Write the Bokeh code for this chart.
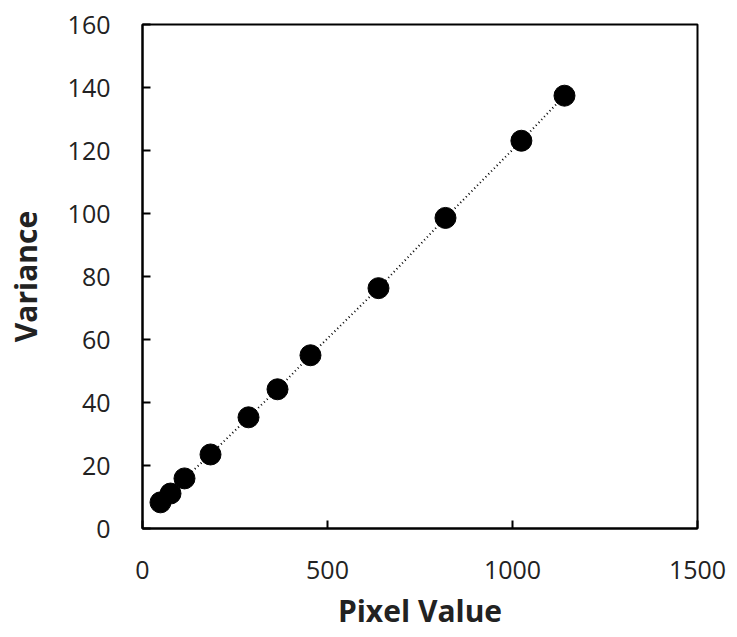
from bokeh.plotting import figure
from bokeh.embed import file_html
from bokeh.resources import INLINE
from bokeh.models import FixedTicker, ColumnDataSource

pixel_value = [48.6, 75.7, 113.5, 183.8, 286.5, 364.9, 454.0, 637.8, 818.9, 1024.0, 1140.5]
variance = [8.3, 11.1, 15.9, 23.5, 35.3, 44.2, 55.0, 76.3, 98.6, 123.1, 137.4]
x_ticks = [0, 500, 1000, 1500]
y_ticks = [0, 20, 40, 60, 80, 100, 120, 140, 160]

src = ColumnDataSource(dict(x=pixel_value, y=variance))

p = figure(width=737, height=637, output_backend="svg", toolbar_location=None,
           x_range=(0, 1500), y_range=(0, 160),
           min_border_left=142, min_border_right=40, min_border_top=24, min_border_bottom=109)
p.xgrid.visible = False
p.ygrid.visible = False
p.outline_line_color = "black"
p.outline_line_width = 2
p.background_fill_color = "white"
p.border_fill_color = "white"

p.line("x", "y", source=src, line_color="black", line_width=2, line_dash="1 3")
p.scatter("x", "y", source=src, size=21, fill_color="black", line_color="black")

for ax, ticks in ((p.xaxis[0], x_ticks), (p.yaxis[0], y_ticks)):
    ax.ticker = FixedTicker(ticks=ticks)
    ax.minor_tick_line_color = None
    ax.major_tick_in = 8
    ax.major_tick_out = 0
    ax.major_tick_line_width = 2
    ax.axis_line_width = 2
    ax.axis_line_color = "black"
    ax.major_label_text_font = "Open Sans"
    ax.major_label_text_font_size = "25px"
    ax.major_label_text_color = "#222222"
    ax.major_label_standoff = 32
    ax.axis_label_text_font = "Open Sans"
    ax.axis_label_text_font_size = "30px"
    ax.axis_label_text_font_style = "bold"
    ax.axis_label_text_color = "#222222"

p.xaxis[0].axis_label = "Pixel Value"
p.yaxis[0].axis_label = "Variance"
p.xaxis[0].axis_label_standoff = 8
p.yaxis[0].axis_label_standoff = 19

open("out.html", "w").write(file_html(p, INLINE))
